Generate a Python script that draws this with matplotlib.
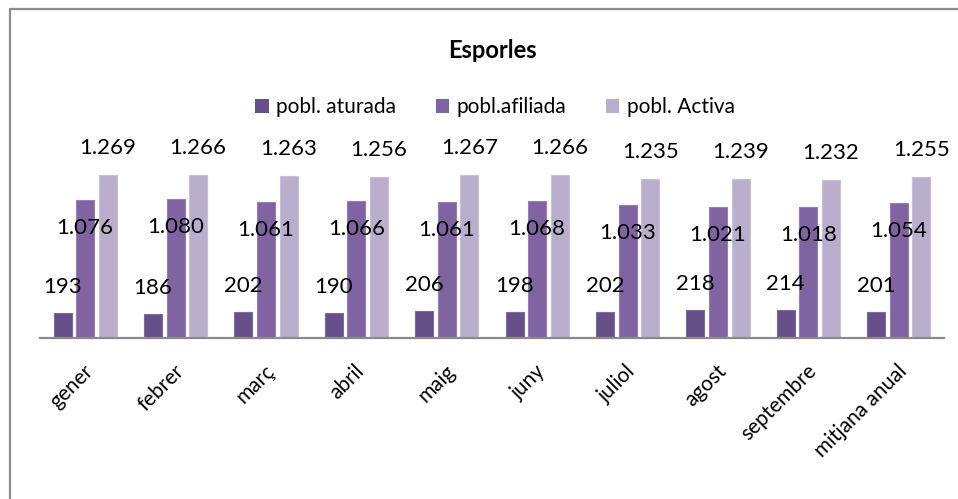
import matplotlib
matplotlib.use("Agg")
import matplotlib.pyplot as plt
from matplotlib.lines import Line2D
from matplotlib.patches import Patch
import matplotlib.transforms as mtransforms
import numpy as np

plt.rcParams['font.family'] = ['Lato', 'DejaVu Sans']

categories = ["gener", "febrer", "març", "abril", "maig", "juny", "juliol",
              "agost", "septembre", "mitjana anual"]
aturada = [193, 186, 202, 190, 206, 198, 202, 218, 214, 201]
afiliada = [1076, 1080, 1061, 1066, 1061, 1068, 1033, 1021, 1018, 1054]
activa = [1269, 1266, 1263, 1256, 1267, 1266, 1235, 1239, 1232, 1255]
series_names = ["pobl. aturada", "pobl.afiliada", "pobl. Activa"]
title = "Esporles"

colors = ["#675089", "#8064A2", "#B9AECB"]
edges = ["#7D69A0", "#957DB6", "#C9C0D8"]

W, H = 958, 499
fig = plt.figure(figsize=(W / 100, H / 100), dpi=100)

# axes placement in pixels
left_px, right_px, base_px, top_px = 40, 944, 337.5, 158.3
ax = fig.add_axes([left_px / W, (H - base_px) / H, (right_px - left_px) / W,
                   (base_px - top_px) / H])

x = np.arange(len(categories))
bw = 0.2
step = 0.25
data = [aturada, afiliada, activa]
label_offsets = [26, -28, 27]  # pixels, label centre relative to bar top

def fmt(v):
    return f"{v:,}".replace(",", ".")

for i, (vals, c, ec) in enumerate(zip(data, colors, edges)):
    xs = x + (i - 1) * step
    ax.bar(xs, vals, width=bw, color=c, edgecolor=ec, linewidth=0.8, zorder=2)
    for xi, v in zip(xs, vals):
        ax.annotate(fmt(v), (xi, v), xytext=(0, label_offsets[i]),
                    textcoords='offset pixels', ha='center', va='center',
                    fontsize=16, color='black', zorder=3)

ax.set_xlim(-0.5, len(categories) - 0.5)
ax.set_ylim(0, 1400)
ax.set_yticks([])
for s in ['top', 'right', 'left']:
    ax.spines[s].set_visible(False)
ax.spines['bottom'].set_color('#8A8A8A')
ax.spines['bottom'].set_linewidth(1.6)
ax.spines['bottom'].set_zorder(4)

ax.set_xticks(x)
ax.set_xticklabels(categories, rotation=45, ha='right', va='top',
                   rotation_mode='anchor', fontsize=15)
ax.tick_params(axis='x', length=0, pad=17)
offset = mtransforms.ScaledTranslation(-2 / 100, 0, fig.dpi_scale_trans)
for lab in ax.get_xticklabels():
    lab.set_transform(lab.get_transform() + offset)

# title
fig.text(492 / W, 1 - 50 / H, title, ha='center', va='center',
         fontsize=17, fontweight='bold')

# legend
handles = [Patch(facecolor=c, edgecolor='none') for c in colors]
fig.legend(handles, series_names, loc='center', bbox_to_anchor=(495 / W, 1 - 107 / H),
           ncol=3, frameon=False, fontsize=15, handlelength=0.65, handleheight=0.65,
           handletextpad=0.35, columnspacing=1.9)

# chart border (cropped on right and bottom)
fig.add_artist(Line2D([10 / W, 10 / W, 1.0], [0.0, 1 - 9 / H, 1 - 9 / H],
                      transform=fig.transFigure, color='#8C8C8C', linewidth=1.6))

fig.savefig("out.png", dpi=100)
